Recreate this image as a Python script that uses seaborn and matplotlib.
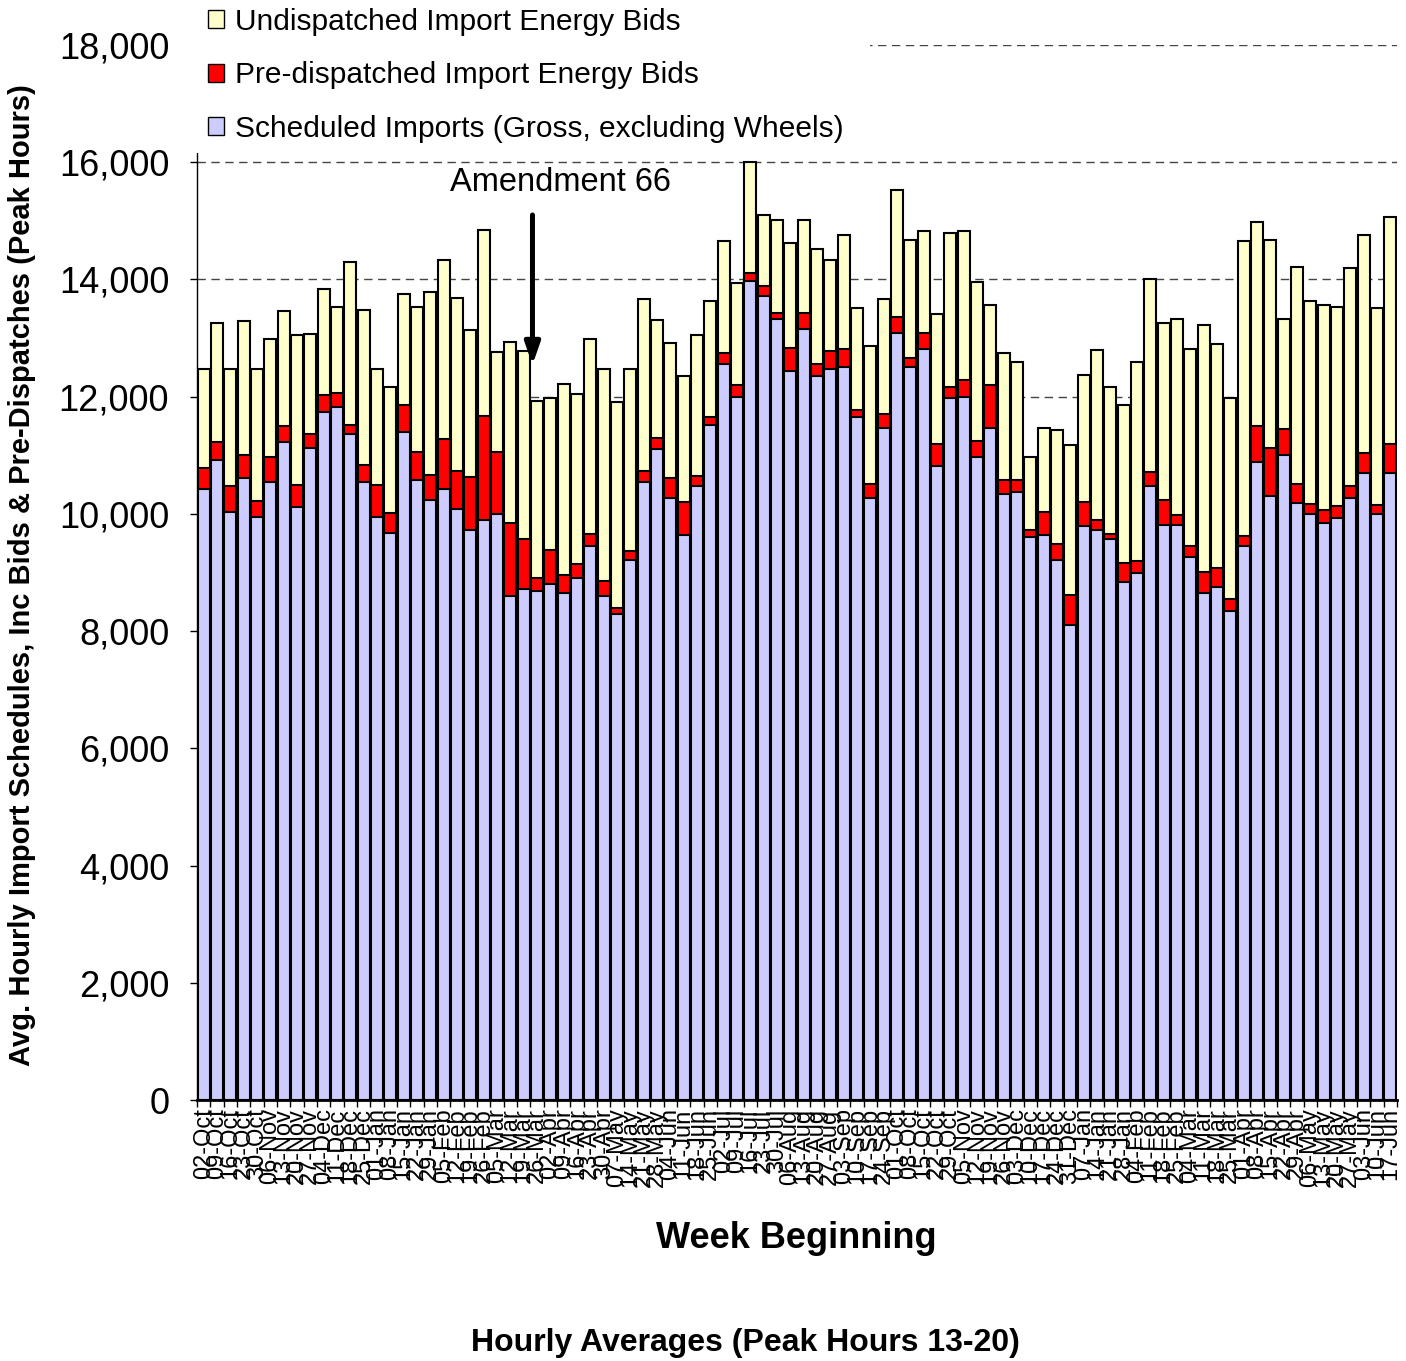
import numpy as np
import pandas as pd
import matplotlib
matplotlib.use('Agg')
import matplotlib.pyplot as plt
from matplotlib.patches import Patch, Rectangle
from matplotlib.ticker import FuncFormatter
import seaborn as sns

# week labels (weekly, starting Monday 02-Oct-2000)
weeks = pd.date_range('2000-10-02', periods=90, freq='7D').strftime('%d-%b').tolist()

# MW
scheduled = [10420, 10920, 10040, 10620, 9950, 10540, 11230, 10110, 11120, 11740,
             11820, 11360, 10540, 9950, 9680, 11390, 10580, 10240, 10420, 10080,
             9730, 9890, 10000, 8600, 8720, 8680, 8800, 8650, 8910, 9460,
             8600, 8300, 9220, 10540, 11110, 10270, 9640, 10470, 11510, 12550,
             12000, 13980, 13710, 13320, 12430, 13160, 12360, 12470, 12500, 11660,
             10270, 11470, 13090, 12510, 12820, 10810, 11970, 12000, 10970, 11470,
             10340, 10380, 9600, 9640, 9220, 8100, 9800, 9730, 9570, 8840,
             8990, 10470, 9810, 9810, 9270, 8650, 8760, 8340, 9460, 10890,
             10310, 11010, 10190, 10000, 9840, 9930, 10270, 10700, 10000, 10700]
pre_dispatched = [360, 310, 430, 390, 270, 430, 270, 390, 250, 280,
                  240, 150, 290, 550, 330, 470, 470, 420, 860, 660,
                  900, 1780, 1050, 1240, 860, 230, 590, 310, 240, 200,
                  250, 90, 140, 200, 180, 350, 560, 180, 140, 200,
                  200, 130, 170, 110, 400, 270, 190, 310, 320, 120,
                  240, 230, 270, 150, 270, 390, 190, 280, 270, 730,
                  240, 200, 120, 400, 270, 520, 410, 170, 90, 320,
                  200, 240, 430, 170, 190, 360, 320, 200, 170, 610,
                  810, 430, 320, 170, 220, 200, 200, 340, 160, 500]
undispatched = [1690, 2020, 2010, 2280, 2250, 2020, 1970, 2560, 1700, 1810,
                1470, 2780, 2650, 1970, 2150, 1890, 2480, 3130, 3060, 2940,
                2510, 3170, 1710, 3090, 3200, 3020, 2590, 3250, 2900, 3320,
                3620, 3520, 3120, 2930, 2010, 2300, 2160, 2410, 1990, 1900,
                1740, 1890, 1220, 1590, 1800, 1590, 1970, 1550, 1940, 1740,
                2350, 1970, 2160, 2020, 1740, 2210, 2630, 2550, 2710, 1360,
                2170, 2020, 1250, 1430, 1940, 2550, 2160, 2890, 2510, 2700,
                3400, 3290, 3010, 3350, 3360, 4210, 3820, 3440, 5020, 3480,
                3560, 1890, 3710, 3470, 3510, 3400, 3720, 3710, 3360, 3860]

labels = ['Undispatched Import Energy Bids',
          'Pre-dispatched Import Energy Bids',
          'Scheduled Imports (Gross, excluding Wheels)']
colors = ['#FFFFCC', '#FF0000', '#CCCCFF']

sns.set_style('white')
plt.rcParams['font.family'] = ['Liberation Sans', 'DejaVu Sans']
for k in ['text.color', 'axes.labelcolor', 'xtick.color', 'ytick.color']:
    plt.rcParams[k] = 'black'

df = pd.DataFrame({'week': weeks, 'scheduled': scheduled,
                   'pre': pre_dispatched, 'undisp': undispatched})
df['red_top'] = df['scheduled'] + df['pre']
df['total'] = df['red_top'] + df['undisp']

W, H = 1406, 1361
fig = plt.figure(figsize=(W / 100, H / 100), dpi=100)
ax = fig.add_axes([197 / W, 261 / H, 1200 / W, 1055 / H])

# stacked bars: draw cumulative tops, largest first
for col, c in zip(['total', 'red_top', 'scheduled'], colors):
    sns.barplot(data=df, x='week', y=col, color=c, saturation=1, width=0.9,
                edgecolor='black', linewidth=1.5, errorbar=None, ax=ax)

ax.set_xlim(-0.5, len(weeks) - 0.5)
ax.set_ylim(0, 18000)
ax.set_xlabel('')
ax.set_ylabel('')

ax.set_yticks(range(0, 18001, 2000))
ax.yaxis.set_major_formatter(FuncFormatter(lambda v, p: f'{v:,.0f}'))
ax.tick_params(axis='y', left=True, length=5, width=1, color='black',
               labelsize=26, pad=15, direction='out')

ax.set_xticks(np.arange(-0.5, len(weeks), 1), minor=True)
ax.tick_params(axis='x', which='minor', bottom=True, length=5, width=1,
               color='black', direction='out')
ax.tick_params(axis='x', which='major', bottom=False, length=0, labelsize=17,
               labelrotation=90, pad=6)

ax.set_axisbelow(True)
ax.yaxis.grid(True, color='#444444', linestyle=(0, (6, 4)), linewidth=1)
ax.xaxis.grid(False)
for s in ['top', 'right']:
    ax.spines[s].set_visible(False)
ax.spines['left'].set_color('black')
ax.spines['left'].set_linewidth(1)
ax.spines['bottom'].set_color('black')
ax.spines['bottom'].set_linewidth(2)

# annotation
ax.text(26.75, 15660, 'Amendment 66', fontsize=23.5, ha='center', va='center')
ax.annotate('', xy=(24.66, 12540), xytext=(24.66, 15100),
            arrowprops=dict(arrowstyle='-|>,head_length=1.3,head_width=0.45',
                            lw=3.6, color='black', shrinkA=0, shrinkB=0,
                            mutation_scale=10))

# white box behind the legend
ax.add_artist(Rectangle((186 / W, 1 - 153 / H), (870 - 186) / W, 153 / H,
                        transform=fig.transFigure, facecolor='white',
                        edgecolor='none', zorder=5, clip_on=False))

handles = [Patch(facecolor=c, edgecolor='black', linewidth=1) for c in colors]
leg = ax.legend(handles, labels, loc='upper left',
                bbox_to_anchor=(208 / W, 1 - 8 / H), bbox_transform=fig.transFigure,
                frameon=False, fontsize=21.5, handlelength=0.55, handleheight=0.55,
                handletextpad=0.35, labelspacing=0.85, borderpad=0, borderaxespad=0)
leg.set_zorder(6)

fig.text(22 / W, 1 - 575 / H,
         'Avg. Hourly Import Schedules, Inc Bids & Pre-Dispatches (Peak Hours)',
         rotation=90, ha='center', va='center', fontsize=21, fontweight='bold')
fig.text(796 / W, 1 - 1238 / H, 'Week Beginning', ha='center', va='center',
         fontsize=26, fontweight='bold')
fig.text(745 / W, 1 - 1343 / H, 'Hourly Averages (Peak Hours 13-20)',
         ha='center', va='center', fontsize=23, fontweight='bold')

fig.savefig('out.png', dpi=100)
